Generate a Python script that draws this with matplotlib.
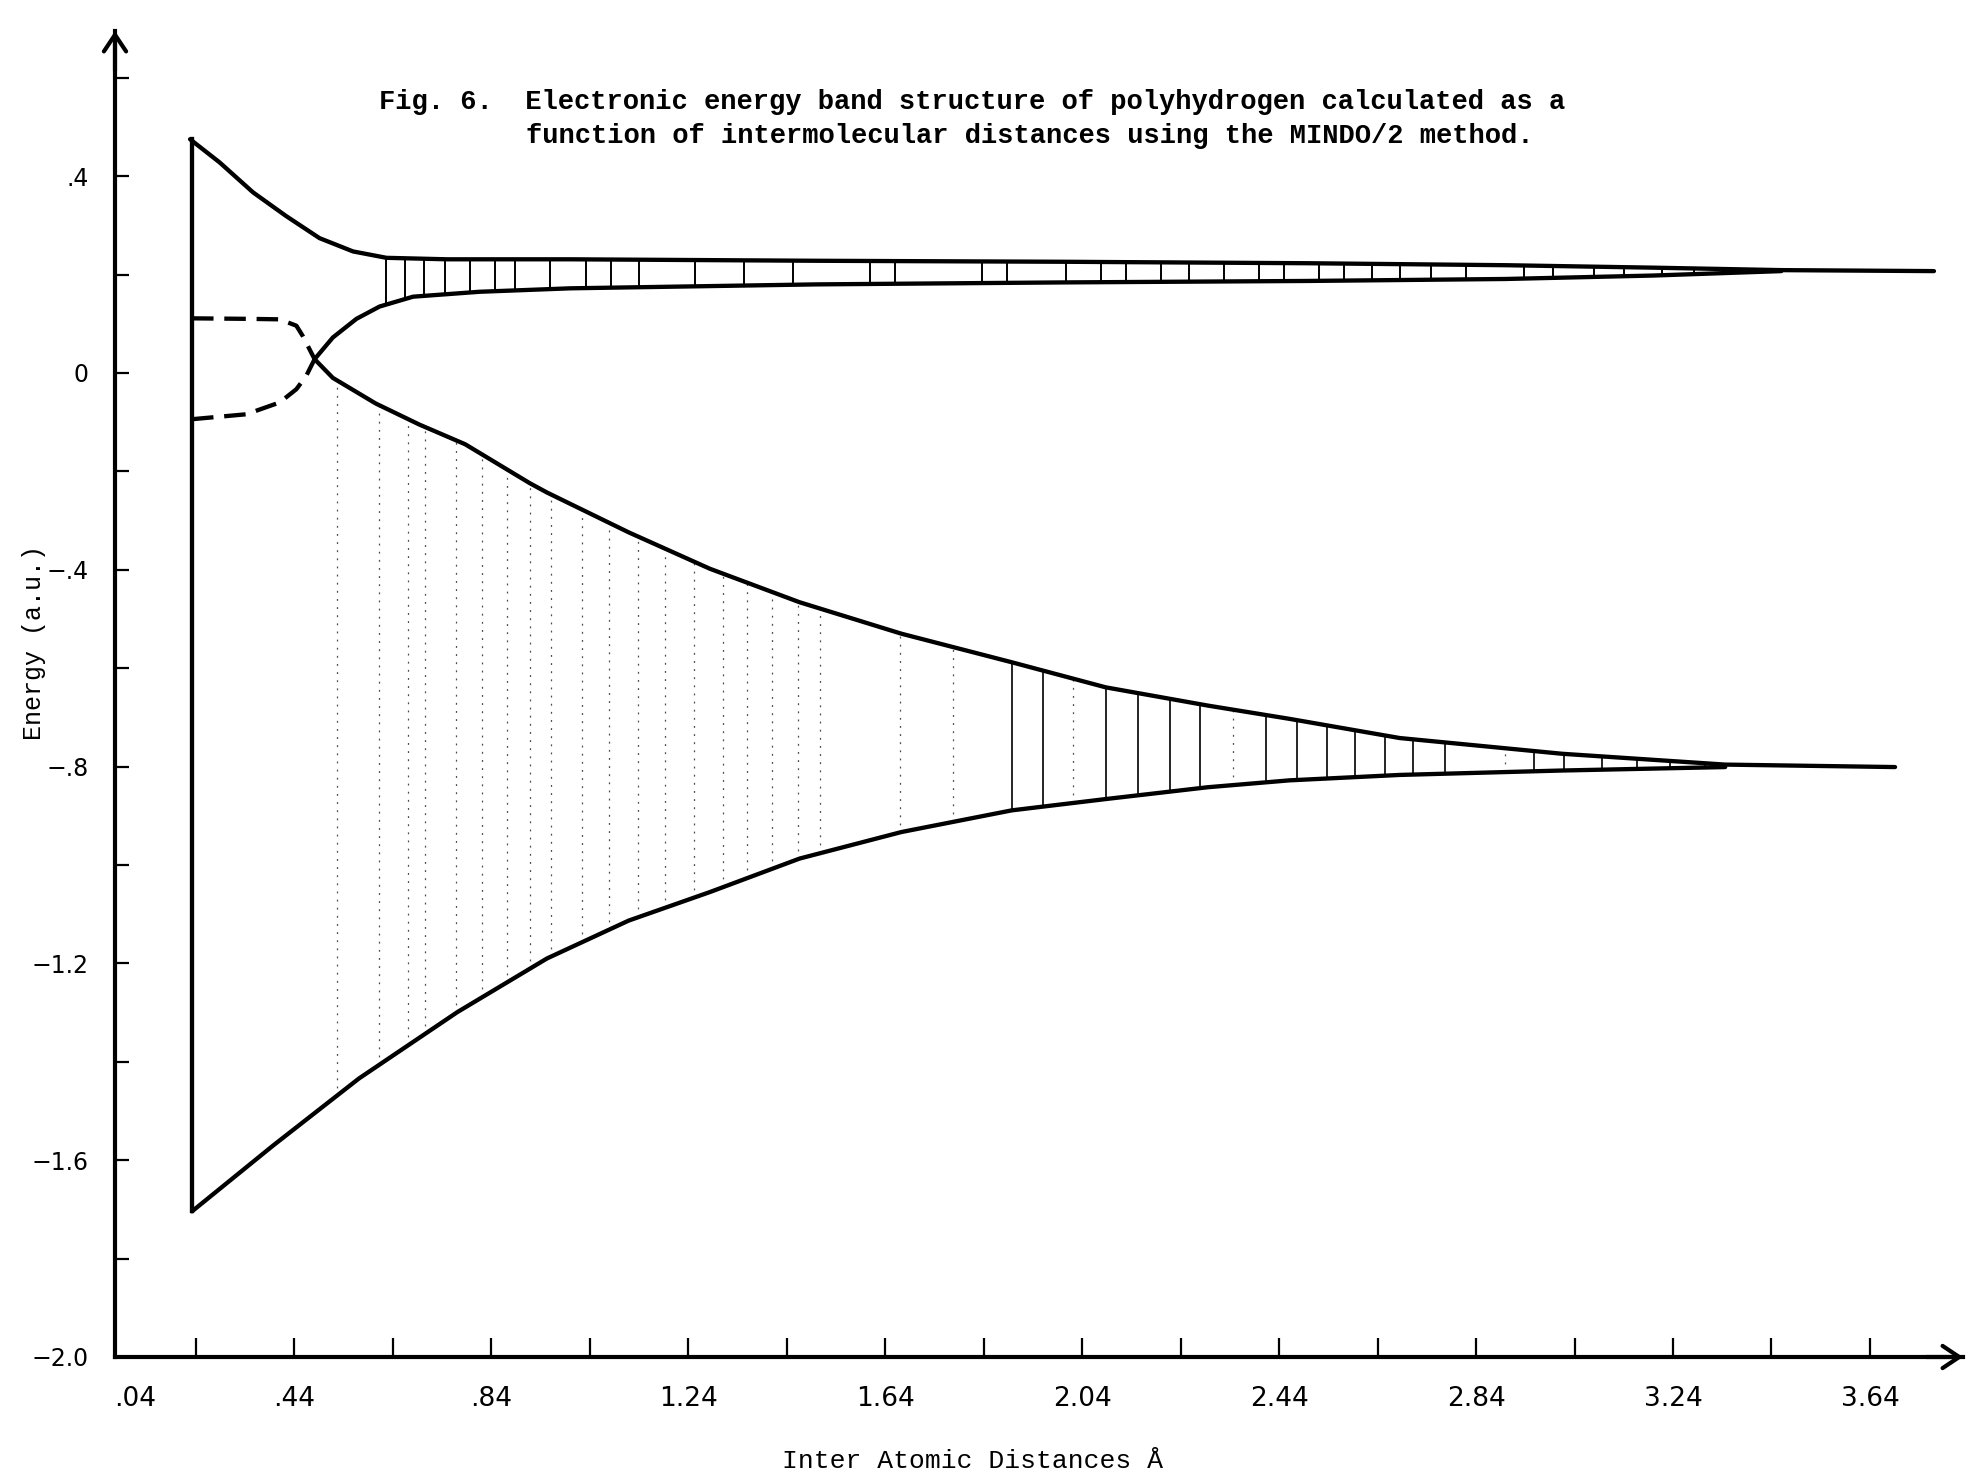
import numpy as np
import matplotlib.pyplot as plt

# upper band: top and bottom edges
up_top_x = [0.228, 0.288, 0.356, 0.423, 0.491, 0.559, 0.627, 0.75, 1.0, 1.5, 2.0, 2.5, 2.9, 3.2, 3.46, 3.77]
up_top_y = [0.475, 0.428, 0.367, 0.319, 0.274, 0.247, 0.234, 0.231, 0.231, 0.228, 0.226, 0.223, 0.219, 0.214, 0.209, 0.207]
up_bot_x = [0.481, 0.518, 0.566, 0.613, 0.681, 0.816, 1.0, 1.5, 2.0, 2.5, 2.9, 3.2, 3.46]
up_bot_y = [0.028, 0.072, 0.110, 0.135, 0.155, 0.165, 0.172, 0.180, 0.184, 0.187, 0.191, 0.198, 0.207]

# lower band: top and bottom edges
lo_top_x = [0.481, 0.518, 0.605, 0.694, 0.787, 0.918, 0.953, 1.119, 1.284, 1.466, 1.673, 1.897,
            2.088, 2.295, 2.461, 2.685, 3.015, 3.346, 3.691]
lo_top_y = [0.028, -0.010, -0.062, -0.105, -0.145, -0.224, -0.243, -0.324, -0.398, -0.466, -0.530,
            -0.588, -0.639, -0.676, -0.703, -0.742, -0.774, -0.796, -0.801]
lo_bot_x = [0.232, 0.397, 0.571, 0.771, 0.953, 1.119, 1.284, 1.466, 1.673, 1.897, 2.088, 2.295,
            2.461, 2.685, 3.015, 3.346]
lo_bot_y = [-1.704, -1.570, -1.434, -1.299, -1.190, -1.113, -1.055, -0.987, -0.933, -0.889, -0.866,
            -0.842, -0.828, -0.817, -0.808, -0.801]

# dashed levels at short distances, running into the crossing
dash_hi_x = [0.232, 0.342, 0.41, 0.444, 0.457, 0.481]
dash_hi_y = [0.111, 0.110, 0.109, 0.096, 0.075, 0.028]
dash_lo_x = [0.232, 0.342, 0.41, 0.444, 0.464, 0.481]
dash_lo_y = [-0.094, -0.084, -0.060, -0.033, -0.006, 0.028]

# left edge of the diagram
edge_x = 0.232

# vertical shading lines inside the bands
up_hatch = [0.627, 0.664, 0.704, 0.746, 0.796, 0.847, 0.889, 0.960, 1.032, 1.082, 1.139, 1.253, 1.353,
            1.452, 1.609, 1.659, 1.837, 1.887, 2.008, 2.079, 2.129, 2.200, 2.257, 2.329, 2.400, 2.450,
            2.521, 2.571, 2.628, 2.685, 2.749, 2.820, 2.938, 2.997, 3.079, 3.140, 3.218, 3.283, 3.354]
lo_hatch = [1.897, 1.961, 2.088, 2.154, 2.219, 2.280, 2.414, 2.476, 2.538, 2.594, 2.656, 2.712,
            2.776, 2.958, 3.019, 3.096, 3.166, 3.234, 3.305]
lo_dotted = [0.526, 0.611, 0.671, 0.706, 0.768, 0.821, 0.871, 0.918, 0.961, 1.025, 1.079, 1.137,
             1.193, 1.251, 1.311, 1.359, 1.411, 1.463, 1.507, 1.669, 1.777, 2.021, 2.347, 2.898]

x_ticks = np.round(np.arange(0.24, 3.65, 0.2), 2)
x_lab_pos = [0.44, 0.84, 1.24, 1.64, 2.04, 2.44, 2.84, 3.24, 3.64]
x_lab = ['.44', '.84', '1.24', '1.64', '2.04', '2.44', '2.84', '3.24', '3.64']
y_ticks = np.round(np.arange(-2.0, 0.61, 0.2), 2)
y_lab = {0.4: '.4', 0.0: '0', -0.4: '\u2212.4', -0.8: '\u2212.8', -1.2: '\u22121.2',
         -1.6: '\u22121.6', -2.0: '\u22122.0'}

W, H = 1967, 1475
fig = plt.figure(figsize=(W / 100, H / 100), dpi=100)
ax = fig.add_axes([115 / W, 1 - 1357 / H, (1963 - 115) / W, (1357 - 31) / H])
ax.set_xlim(0.0756, 3.829)
ax.set_ylim(-2.0, 0.695)

lw = 3.1
ax.plot(up_top_x, up_top_y, 'k-', lw=lw, solid_capstyle='round', solid_joinstyle='round')
ax.plot(up_bot_x, up_bot_y, 'k-', lw=lw, solid_capstyle='round', solid_joinstyle='round')
ax.plot(lo_top_x, lo_top_y, 'k-', lw=lw, solid_capstyle='round', solid_joinstyle='round')
ax.plot(lo_bot_x, lo_bot_y, 'k-', lw=lw, solid_capstyle='round', solid_joinstyle='round')
ax.plot([edge_x, edge_x], [up_top_y[0], lo_bot_y[0]], 'k-', lw=lw)
ax.plot(dash_hi_x, dash_hi_y, 'k', lw=lw, ls=(0, (5, 2.5)))
ax.plot(dash_lo_x, dash_lo_y, 'k', lw=lw, ls=(0, (5, 2.5)))

ux = np.array(up_hatch)
ax.vlines(ux, np.interp(ux, up_bot_x, up_bot_y), np.interp(ux, up_top_x, up_top_y), colors='k', lw=1.4)
lx = np.array(lo_hatch)
ax.vlines(lx, np.interp(lx, lo_bot_x, lo_bot_y), np.interp(lx, lo_top_x, lo_top_y), colors='k', lw=1.2)
dx = np.array(lo_dotted)
ax.vlines(dx, np.interp(dx, lo_bot_x, lo_bot_y), np.interp(dx, lo_top_x, lo_top_y), colors='k',
          lw=0.9, linestyles=(0, (1.5, 5)), alpha=0.7)

for s in ['top', 'right']:
    ax.spines[s].set_visible(False)
for s in ['left', 'bottom']:
    ax.spines[s].set_linewidth(3)

arrow = dict(arrowstyle='->,head_length=0.6,head_width=0.4', lw=3, color='k',
             shrinkA=0, shrinkB=0, mutation_scale=20)
ax.annotate('', xy=(0, 1), xycoords='axes fraction', xytext=(0, 0.97), arrowprops=arrow,
            annotation_clip=False)
ax.annotate('', xy=(1, 0), xycoords='axes fraction', xytext=(0.98, 0), arrowprops=arrow,
            annotation_clip=False)

ax.set_xticks(x_ticks)
ax.set_xticklabels([x_lab[x_lab_pos.index(t)] if t in x_lab_pos else '' for t in x_ticks])
ax.set_yticks(y_ticks)
ax.set_yticklabels([y_lab.get(t, '') for t in y_ticks])
ax.tick_params(axis='x', direction='in', length=14, width=1.6, pad=21, labelsize=19)
ax.tick_params(axis='y', direction='in', length=10, width=1.6, pad=19, labelsize=17)
ax.annotate('.04', xy=(0.116, 0), xycoords=('data', 'axes fraction'), xytext=(0, -21),
            textcoords='offset points', ha='center', va='top', fontsize=19)

mono = 'Liberation Mono'
fig.text(379 / W, 1 - 109 / H,
         'Fig. 6.  Electronic energy band structure of polyhydrogen calculated as a',
         family=mono, weight='bold', fontsize=19.5, va='baseline', ha='left')
fig.text(526 / W, 1 - 143 / H,
         'function of intermolecular distances using the MINDO/2 method.',
         family=mono, weight='bold', fontsize=19.5, va='baseline', ha='left')
fig.text(34 / W, 1 - 642 / H, 'Energy (a.u.)', family=mono, fontsize=18,
         rotation=90, ha='center', va='center')
fig.text(972 / W, 1 - 1468 / H, 'Inter Atomic Distances \u00c5', family=mono, fontsize=19,
         ha='center', va='baseline')

fig.savefig('out.png', dpi=100, facecolor='white')
